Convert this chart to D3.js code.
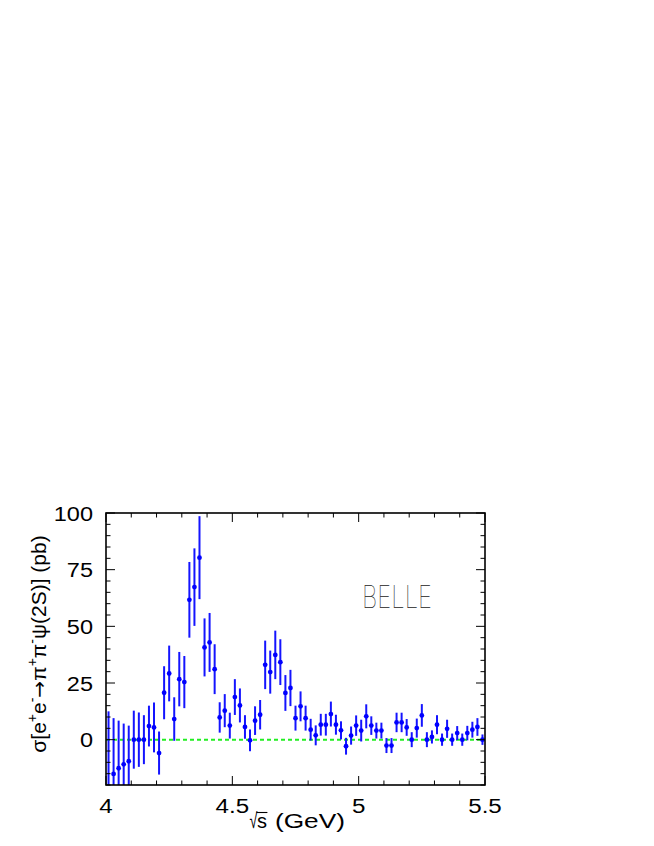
<!DOCTYPE html>
<html><head><meta charset="utf-8">
<script src="https://cdn.jsdelivr.net/npm/d3@7"></script>
<style>body{margin:0;background:#fff}svg{display:block}</style>
</head><body>
<script>
const energy = [4.01,4.03,4.05,4.07,4.09,4.11,4.13,4.15,4.17,4.19,4.21,4.23,4.25,4.27,4.29,4.31,4.33,4.35,4.37,4.39,4.41,4.43,4.45,4.47,4.49,4.51,4.53,4.55,4.57,4.59,4.61,4.63,4.65,4.67,4.69,4.71,4.73,4.75,4.77,4.79,4.81,4.83,4.85,4.87,4.89,4.91,4.93,4.95,4.97,4.99,5.01,5.03,5.05,5.07,5.09,5.11,5.13,5.15,5.17,5.19,5.21,5.23,5.25,5.27,5.29,5.31,5.33,5.35,5.37,5.39,5.41,5.43,5.45,5.47,5.49];
const sigma = [-25,-15.1,-12.6,-10.9,-9.5,0,0,0,6.0,5.4,-5.9,20.7,29.2,9.1,26.7,25.4,61.7,67.3,80.3,40.7,42.9,31.1,9.8,12.8,6.2,18.8,15.1,5.6,-0.3,8.4,11.0,33.0,29.8,37.4,34.2,20.6,22.8,9.5,14.7,9.5,4.4,1.9,6.6,6.6,11.3,6.6,4.1,-2.9,1.8,6.2,4.0,10.3,6.2,4.0,4.0,-2.6,-2.6,7.6,7.6,5.4,0,5.1,10.7,0,1.2,6.6,0,4.8,0,2.9,0,2.9,4.4,5.6,0];
const sigmaErr = [37.5,24.6,21,18,15.7,12.8,12,10.8,9,11,9.5,11.7,12.3,9.6,12,11.5,16.7,17.1,18.3,12.8,13,11,6.7,7.3,5.7,7.9,7.5,5.2,4.8,6.3,6.5,10.7,9.5,10.7,10.1,7.9,8,5.5,6.6,5.5,4.8,4.4,4.8,4.8,5.5,4.4,4,3.7,4,4.5,4.8,5.3,4.1,3.5,3.5,3.3,3.3,4.3,4.3,3.7,3.3,4.2,5,3.3,2.9,4.2,2.7,4,2.7,3.1,2.7,3.2,3.5,3.9,2.3];
const xDomain = [4, 5.5];
const yDomain = [-20, 100];
const xTickLabels = [4, 4.5, 5, 5.5];
const yTickLabels = [0, 25, 50, 75, 100];

const W = 654, H = 846;
const L = 106, R = 485, T = 513, B = 785;
const svg = d3.select("body").append("svg").attr("width", W).attr("height", H);
const x = d3.scaleLinear().domain(xDomain).range([L, R]);
const y = d3.scaleLinear().domain(yDomain).range([B, T]);
const font = "'Liberation Sans', Arial, Helvetica, sans-serif";

svg.append("clipPath").attr("id","clip").append("rect")
  .attr("x", L).attr("y", T).attr("width", R-L).attr("height", B-T);

// zero line
svg.append("line").attr("x1", x(4)).attr("x2", x(5.5)).attr("y1", y(0)).attr("y2", y(0))
  .attr("stroke", "#22ee22").attr("stroke-width", 2).attr("stroke-dasharray", "4,3");

const data = energy.map((e,i)=>({e, v: sigma[i], err: sigmaErr[i]}));
const g = svg.append("g").attr("clip-path","url(#clip)");
g.selectAll("line.err").data(data).enter().append("line").attr("class","err")
  .attr("x1", d=>x(d.e)).attr("x2", d=>x(d.e))
  .attr("y1", d=>y(d.v+d.err)).attr("y2", d=>y(d.v-d.err))
  .attr("stroke", "#1414ff").attr("stroke-width", 2);
g.selectAll("circle").data(data).enter().append("circle")
  .attr("cx", d=>x(d.e)).attr("cy", d=>y(d.v)).attr("r", 2.4).attr("fill", "#0000ff");

// axes with ticks on all sides
const tickMaj = 9, tickMin = 4.5;
function xTicks(yPos, dir){
  const ticks = d3.range(40, 56, 1).map(t=>t/10);
  svg.append("g").selectAll("line").data(ticks).enter().append("line")
    .attr("x1", d=>x(d)).attr("x2", d=>x(d)).attr("y1", yPos)
    .attr("y2", d=> yPos + dir*((Math.round(d*10)%5===0)?tickMaj:tickMin))
    .attr("stroke","#000").attr("stroke-width",1);
}
function yTicks(xPos, dir){
  const ticks = d3.range(-20, 101, 5);
  svg.append("g").selectAll("line").data(ticks).enter().append("line")
    .attr("y1", d=>y(d)).attr("y2", d=>y(d)).attr("x1", xPos)
    .attr("x2", d=> xPos + dir*((d%25===0)?tickMaj:tickMin))
    .attr("stroke","#000").attr("stroke-width",1);
}
xTicks(B, -1); xTicks(T, 1); yTicks(L, 1); yTicks(R, -1);

svg.append("rect").attr("x", L).attr("y", T).attr("width", R-L).attr("height", B-T)
  .attr("fill","none").attr("stroke","#000").attr("stroke-width",1.6);

// tick labels
svg.append("g").selectAll("text").data(xTickLabels).enter().append("text")
  .attr("transform", d=>`translate(${x(d)},812.5) scale(1.15,1)`).attr("text-anchor","middle")
  .attr("font-family", font).attr("font-size", 21).text(d=>d);
svg.append("g").selectAll("text").data(yTickLabels).enter().append("text")
  .attr("transform", d=>`translate(93,${y(d)+7.6}) scale(1.12,1)`).attr("text-anchor","end")
  .attr("font-family", font).attr("font-size", 21).text(d=>d);

// y title
const yt = svg.append("text").attr("transform","translate(46,644) rotate(-90)")
  .attr("text-anchor","middle").attr("font-family", font).attr("font-size", 21);
const parts = [["σ[e",0],["+",1],["e",0],["-",1],["→",0],["π",0],["+",1],["π",0],["-",1],["ψ(2S)] (pb)",0]];
parts.forEach(([t,s],i)=>{
  const prev = i>0 ? parts[i-1][1] : 0;
  const ts = yt.append("tspan").text(t);
  if (s) ts.attr("font-size", 14);
  if (t === "→") ts.attr("font-family", "'DejaVu Sans', sans-serif").attr("font-size", 20);
  if (s && !prev) ts.attr("dy", -9);
  else if (!s && prev) ts.attr("dy", 9);
});

// x title: √s with overline, then (GeV)
const x0 = 249.5;
const root = svg.append("text").attr("transform", `translate(${x0},828) scale(0.8,1.2)`)
  .attr("font-family", font).attr("font-size", 18).text("√");
const wRoot = root.node().getComputedTextLength() * 0.8;
const sx = x0 + wRoot - 0.5;
const st = svg.append("text").attr("x", sx).attr("y", 828).attr("font-family", font).attr("font-size", 20).text("s");
const wS = st.node().getComputedTextLength();
svg.append("line").attr("x1", sx - 0.5).attr("x2", sx + wS + 0.5)
  .attr("y1", 812.5).attr("y2", 812.5).attr("stroke","#000").attr("stroke-width",1.1);
svg.append("text").attr("x", sx + wS + 8).attr("y", 828).attr("font-family", font).attr("font-size", 20)
  .attr("textLength", 70).attr("lengthAdjust","spacingAndGlyphs").text("(GeV)");

// BELLE label
svg.append("text").attr("x", 362).attr("y", 608).attr("font-family","Inter, Roboto, Lato, 'DejaVu Sans', sans-serif")
  .attr("font-weight", 100).attr("font-size", 31).attr("fill","#222")
  .attr("textLength", 70).attr("lengthAdjust","spacingAndGlyphs").text("BELLE");
</script>
</body></html>
